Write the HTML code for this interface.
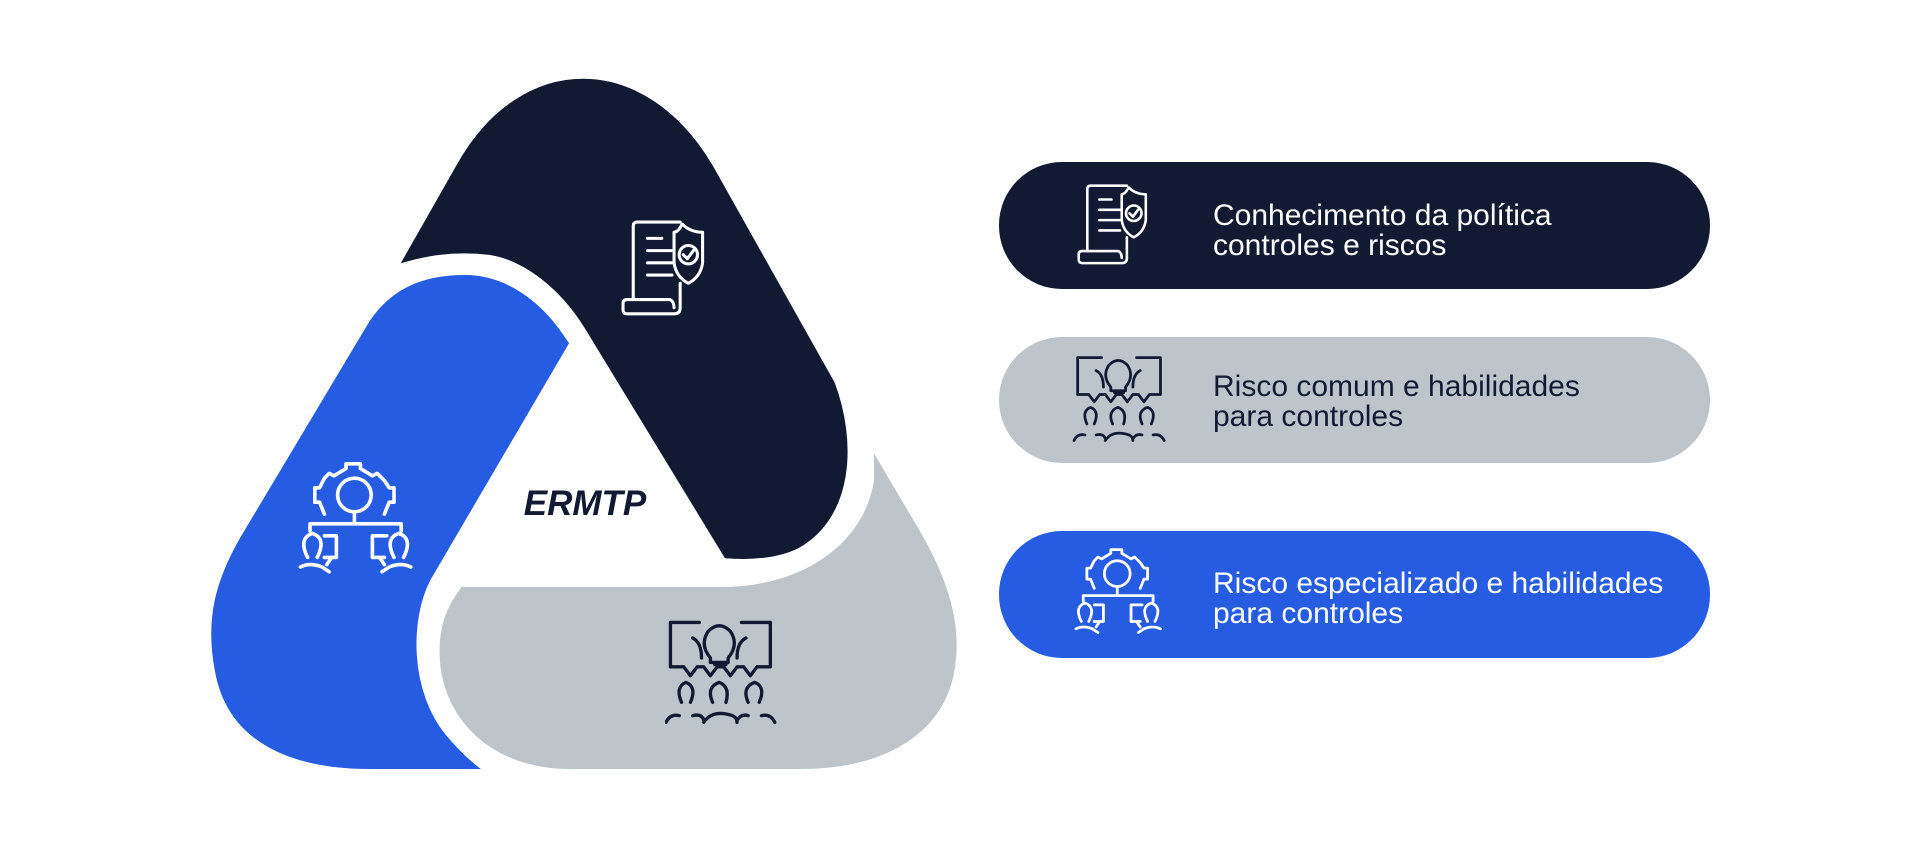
<!DOCTYPE html>
<html><head><meta charset="utf-8"><style>
html,body{margin:0;padding:0;background:#fff;width:1920px;height:861px;overflow:hidden}
text{font-family:"Liberation Sans",sans-serif}
</style></head><body>
<svg width="1920" height="861" viewBox="0 0 1920 861" xmlns="http://www.w3.org/2000/svg">
<defs>
<symbol id="doc" viewBox="0 0 100 100"><g fill="none" stroke-width="3" stroke-linecap="round" stroke-linejoin="round">
<path d="M12 78 V6 Q12 2 16 2 H58"/><path d="M26 18 H40 M26 30 H50 M26 42 H50 M26 54 H50"/>
<path d="M60 4 Q68 12 80 12 V42 Q78 56 66 62 Q54 56 52 42 V12 Q56 12 60 4Z"/>
<circle cx="66" cy="34" r="9"/><path d="M61 34 L65 38 L71 30"/>
<path d="M58 62 V86 Q58 92 52 92 H6 Q2 92 2 88 V82 Q2 78 6 78 H48 Q52 80 52 86"/></g></symbol>
<symbol id="idea" viewBox="0 0 100 100"><g fill="none" stroke-width="3" stroke-linecap="round" stroke-linejoin="round">
<path d="M30 4 H4 V44 H16 L22 52 L28 44 H34 L40 52 L46 44 H52 L58 52 L64 44 H70 L76 52 L82 44 H94 V4 H68"/>
<path d="M40 36 Q30 24 38 12 Q48 2 58 12 Q66 24 56 36 V40 H40Z"/><path d="M44 42 H54"/>
<path d="M24 18 Q32 22 32 36 M72 18 Q64 22 64 36"/>
<path d="M14 76 Q8 62 18 58 Q28 62 22 76 M42 76 Q36 62 48 58 Q58 62 54 76 M74 76 Q68 62 80 58 Q90 62 84 76"/>
<path d="M0 94 Q4 86 12 88 M24 88 Q32 86 34 92 M34 94 Q42 82 60 88 Q64 90 64 94 M64 92 Q68 86 74 88 M86 88 Q94 86 98 94"/></g></symbol>
<symbol id="org" viewBox="0 0 100 100"><g fill="none" stroke-width="3" stroke-linecap="round" stroke-linejoin="round">
<path d="M22 46 L18 36 H14 V24 H18 L22 16 L26 12 L30 14 L40 8 V4 H52 V8 L62 14 L66 12 L72 18 L76 24 H80 V36 H76 L72 46"/>
<circle cx="47" cy="30" r="14"/><path d="M47 44 V54 M10 54 H86 M10 54 V60 M86 54 V60"/>
<path d="M8 82 Q0 66 12 62 Q24 66 16 82 M22 64 H32 V82 H22 M28 82 L24 88"/>
<path d="M80 82 Q72 66 84 62 Q96 66 88 82 M74 64 H62 V82 H72 M68 82 L72 88"/>
<path d="M2 90 Q10 86 20 90 L26 94 M94 90 Q86 86 76 90 L70 94"/></g></symbol>
</defs>
<path d="M869 435 L925 530 C952 577 967 622 960 668 C950 735 890 774 800 774 L570 774 C490 774 440 724 435 662 C432 622 445 600 459 582 L722 582 C800 582 860 540 869 480 Z" fill="#bdc5cb" stroke="#fff" stroke-width="10"/>
<path d="M390 272 L452 163 C518 44 647 44 717 163 L839 380 C862 440 860 520 800 553 C775 565 745 565 722 563 L580 330 C555 290 520 265 490 260 C450 255 420 262 390 272 Z" fill="#121933" stroke="#fff" stroke-width="10"/>
<path d="M575 343 L435 582 C415 620 415 690 450 732 C470 756 485 766 496 774 L370 774 C295 774 224 750 210 672 C200 620 210 580 236 535 L362 324 C385 285 420 270 465 270 C510 270 545 300 566 330 Z" fill="#265ce2" stroke="#fff" stroke-width="10"/>
<text x="585" y="515" font-size="35" font-weight="bold" font-style="italic" fill="#121933" text-anchor="middle">ERMTP</text>
<use href="#doc" x="612" y="220" width="120" height="102" stroke="#fff"/>
<use href="#org" x="294" y="459" width="128" height="120" stroke="#fff"/>
<use href="#idea" x="665" y="618" width="113" height="111" stroke="#121933"/>
<rect x="999" y="162" width="711" height="127" rx="63" fill="#121933"/>
<rect x="999" y="337" width="711" height="126" rx="63" fill="#bdc5cb"/>
<rect x="999" y="531" width="711" height="127" rx="63" fill="#265ce2"/>
<use href="#doc" x="1070" y="184" width="100" height="86" stroke="#fff"/>
<use href="#idea" x="1070" y="354" width="100" height="92" stroke="#121933"/>
<use href="#org" x="1070" y="546" width="100" height="92" stroke="#fff"/>
<g font-size="30">
<text x="1213" y="225" fill="#fff">Conhecimento da política</text>
<text x="1213" y="255" fill="#fff">controles e riscos</text>
<text x="1213" y="396" fill="#121933">Risco comum e habilidades</text>
<text x="1213" y="426" fill="#121933">para controles</text>
<text x="1213" y="593" fill="#fff">Risco especializado e habilidades</text>
<text x="1213" y="623" fill="#fff">para controles</text>
</g>
</svg>
</body></html>
